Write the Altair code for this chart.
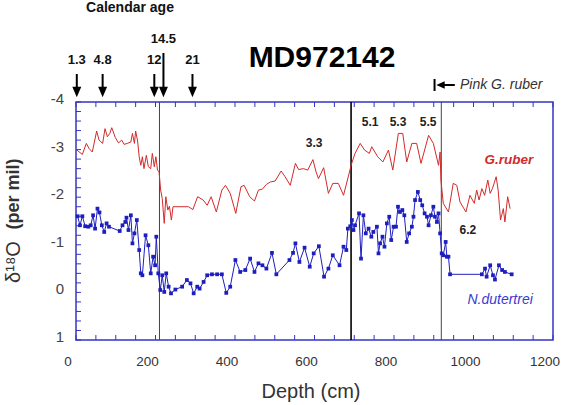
import altair as alt
import pandas as pd

# ---- Core MD972142: oxygen isotope records --------------------------------
# G. ruber (surface dweller): depth in cm, d18O in per mil
ruber_depth = [1, 8, 16, 26, 33, 41, 52, 58, 67, 73, 79, 85, 90, 99, 107, 115,
               121, 129, 138, 142, 147, 150, 155, 159, 163, 167, 171, 177, 182,
               188, 192, 197, 201, 205, 209, 213, 217, 222, 226, 231, 235, 240,
               244, 254, 283, 294, 306, 320, 330, 340, 353, 367, 376, 388, 402,
               415, 423, 437, 449, 459, 469, 479, 489, 501, 516, 526, 539, 552,
               560, 572, 583, 596, 604, 610, 623, 635, 646, 660, 673, 688, 692,
               702, 715, 726, 738, 744, 759, 772, 786, 797, 811, 822, 832, 845,
               857, 868, 887, 899, 912, 916, 918, 924, 937, 949, 958, 966, 981,
               991, 1002, 1008, 1014, 1021, 1028, 1036, 1042, 1048, 1057, 1062,
               1068, 1075, 1079, 1086, 1092]
ruber_d18o = [-3.00, -2.95, -2.90, -3.13, -3.02, -2.95, -3.39, -3.20, -3.13,
              -3.44, -3.27, -3.34, -3.46, -3.25, -3.14, -3.20, -3.11, -3.13,
              -3.16, -3.34, -3.13, -3.39, -3.18, -2.85, -2.67, -2.85, -2.60,
              -2.88, -2.64, -2.60, -2.92, -2.64, -2.85, -2.57, -2.53, -2.15,
              -1.97, -1.45, -2.01, -1.73, -1.81, -1.52, -1.80, -1.80, -1.80,
              -1.74, -2.01, -1.94, -1.83, -2.01, -1.69, -2.15, -2.25, -2.08,
              -1.66, -2.22, -2.25, -2.01, -1.92, -2.15, -2.17, -2.27, -2.32,
              -2.34, -2.55, -2.43, -2.25, -2.71, -2.58, -2.60, -2.57, -2.79,
              -2.53, -2.39, -2.62, -2.08, -2.29, -2.29, -2.04, -2.53, -2.67,
              -2.92, -3.13, -2.99, -2.92, -3.06, -2.85, -2.74, -2.99, -2.57,
              -3.34, -3.34, -2.74, -3.13, -3.13, -2.71, -3.30, -3.13, -2.67,
              -2.95, -2.36, -1.87, -1.69, -2.29, -2.25, -1.90, -1.69, -2.04,
              -1.87, -2.15, -1.94, -2.18, -2.04, -2.36, -2.08, -2.19, -2.43,
              -2.15, -1.52, -1.76, -1.48, -2.01, -1.76]

# N. dutertrei (thermocline dweller)
dut_depth = [4, 10, 16, 23, 31, 37, 43, 48, 54, 59, 65, 71, 77, 83, 110, 117,
             124, 127, 132, 138, 142, 147, 153, 159, 163, 167, 175, 182, 188,
             194, 199, 202, 207, 212, 217, 222, 227, 233, 239, 250, 267, 279,
             288, 296, 305, 311, 321, 330, 342, 355, 367, 378, 388, 401, 413,
             426, 438, 449, 459, 469, 479, 493, 504, 537, 546, 552, 562, 575,
             588, 598, 611, 624, 635, 646, 663, 673, 680, 684, 690, 694, 698,
             702, 712, 717, 723, 729, 736, 743, 748, 757, 761, 765, 771, 776,
             782, 788, 793, 799, 805, 810, 815, 821, 826, 832, 838, 845, 849,
             853, 860, 866, 871, 877, 883, 887, 893, 899, 903, 908, 912, 916,
             920, 924, 930, 933, 937, 941, 1021, 1029, 1033, 1042, 1049, 1054,
             1064, 1072, 1079, 1096]
dut_d18o = [-1.60, -1.41, -1.60, -1.39, -1.38, -1.41, -1.62, -1.34, -1.76,
            -1.68, -1.41, -1.27, -1.45, -1.38, -1.29, -1.41, -1.48, -1.57,
            -1.31, -1.62, -1.03, -1.24, -1.52, -0.89, -0.40, -0.36, -1.20,
            -0.99, -0.40, -0.75, -0.57, -1.17, -0.40, -0.05, -0.36, -0.01,
            -0.40, -0.12, 0.02, -0.06, -0.12, -0.26, -0.19, 0.02, -0.12,
            -0.08, -0.22, -0.36, -0.38, -0.38, -0.38, 0.01, -0.12, -0.68,
            -0.43, -0.47, -0.71, -0.43, -0.61, -0.57, -0.50, -0.83, -0.38,
            -0.68, -0.83, -1.03, -0.64, -0.94, -0.54, -0.82, -0.97, -0.33,
            -0.50, -0.78, -0.57, -0.96, -0.89, -1.34, -1.39, -1.52, -1.31,
            -1.41, -1.66, -0.71, -1.62, -1.24, -1.34, -1.17, -1.27, -1.38,
            -0.82, -1.03, -1.17, -0.96, -1.45, -1.59, -1.10, -1.38, -1.38,
            -1.80, -1.69, -1.73, -1.62, -1.06, -1.24, -1.38, -1.59, -1.94,
            -2.11, -1.94, -1.83, -1.66, -1.59, -1.41, -1.62, -1.80, -1.59,
            -1.48, -1.66, -1.24, -0.82, -0.78, -1.06, -0.75, -0.75, -0.38,
            -0.38, -0.50, -0.33, -0.57, -0.36, -0.27, -0.57, -0.47, -0.43,
            -0.38]

# Boundaries marked across the core (cm)
boundary_depth = [210, 692, 919]

# Calendar ages (kyr) pinned to depths above the plot
age_text = ["1.3", "4.8", "12", "14.5", "21"]
age_depth = [2, 67, 197, 220, 293]

# Isotope stage labels
stage_text = ["3.3", "5.1", "5.3", "5.5", "6.2"]
stage_depth = [599, 740, 810, 886, 986]
stage_d18o = [-3.13, -3.57, -3.57, -3.59, -1.31]

# Axis ticks and labels
x_tick_values = list(range(0, 1201, 50))
x_label_values = list(range(0, 1201, 200))
y_tick_values = [round(-4 + 0.2 * i, 1) for i in range(26)]
y_label_values = [-4, -3, -2, -1, 0, 1]

# ---- Styling ---------------------------------------------------------------
FONT = "Liberation Sans"
RED = "#d42a2a"
BLUE = "#1e1ec0"
FRAME = "#3535c4"
W, H = 477, 238

x_scale = alt.Scale(domain=[0, 1200], nice=False, zero=False)
y_scale = alt.Scale(domain=[-4, 1], reverse=True, nice=False, zero=False)


def xq(field="depth"):
    return alt.X(f"{field}:Q", scale=x_scale, axis=None)


def yq(field="d18o"):
    return alt.Y(f"{field}:Q", scale=y_scale, axis=None)


ruber = pd.DataFrame({"depth": ruber_depth, "d18o": ruber_d18o})
dut = pd.DataFrame({"depth": dut_depth, "d18o": dut_d18o})

ruber_line = alt.Chart(ruber).mark_line(color=RED, strokeWidth=1).encode(
    x=xq(), y=yq()
)

dut_line = alt.Chart(dut).mark_line(
    color=BLUE, strokeWidth=1,
    point=alt.OverlayMarkDef(shape="square", size=14, filled=True,
                             color=BLUE, opacity=1),
).encode(x=xq(), y=yq())

bounds = pd.DataFrame({"depth": boundary_depth, "w": [1, 1.6, 1],
                       "c": ["#444", "#000", "#444"]})
boundary_rules = alt.Chart(bounds).mark_rule().encode(
    x=xq(), y=alt.value(0), y2=alt.value(H),
    strokeWidth=alt.StrokeWidth("w:Q", scale=None, legend=None),
    color=alt.Color("c:N", scale=None, legend=None),
)

# ---- Frame ticks (inward) and tick labels ----------------------------------
xt = pd.DataFrame({"depth": x_tick_values})
yt = pd.DataFrame({"d18o": y_tick_values})
ticks_bottom = alt.Chart(xt).mark_rule(color=FRAME, strokeWidth=1).encode(
    x=xq(), y=alt.value(H - 5), y2=alt.value(H))
ticks_top = alt.Chart(xt).mark_rule(color=FRAME, strokeWidth=1).encode(
    x=xq(), y=alt.value(0), y2=alt.value(5))
ticks_left = alt.Chart(yt).mark_rule(color=FRAME, strokeWidth=1).encode(
    y=yq(), x=alt.value(0), x2=alt.value(5))

xl = pd.DataFrame({"depth": x_label_values,
                   "text": [str(v) for v in x_label_values]})
yl = pd.DataFrame({"d18o": y_label_values,
                   "text": [str(v) for v in y_label_values]})
x_labels = alt.Chart(xl).mark_text(
    font=FONT, fontSize=13.5, color="#333", baseline="middle", dx=-8
).encode(x=xq(), y=alt.value(H + 22), text="text:N")
y_labels = alt.Chart(yl).mark_text(
    font=FONT, fontSize=15, color="#444", baseline="middle", align="right",
    dy=-3
).encode(y=yq(), x=alt.value(-12), text="text:N")

# ---- Annotations -----------------------------------------------------------
# Calendar-age arrows above the frame (the 14.5 kyr one sits higher)
ages = pd.DataFrame({"text": age_text, "depth": age_depth})
ages["top"] = [-49 if t == "14.5" else -28 for t in age_text]
ages["label_y"] = ages["top"] - 14

age_shafts = alt.Chart(ages).mark_rule(color="black", strokeWidth=2).encode(
    x=xq(), y=alt.Y("top:Q", scale=None, axis=None), y2=alt.value(-12)
)
age_heads = alt.Chart(ages).mark_point(
    shape="M-1,-1.2L1,-1.2L0,1.2Z", filled=True, size=80, color="black",
    opacity=1, strokeWidth=0,
).encode(x=xq(), y=alt.value(-10))
age_labels = alt.Chart(ages).mark_text(
    font=FONT, fontSize=13, fontWeight="bold", color="#111", baseline="middle"
).encode(x=xq(), y=alt.Y("label_y:Q", scale=None, axis=None), text="text:N")

stages = pd.DataFrame({"text": stage_text, "depth": stage_depth,
                       "d18o": stage_d18o})
stage_labels = alt.Chart(stages).mark_text(
    font=FONT, fontSize=12, fontWeight="bold", color="#222", baseline="middle"
).encode(x=xq(), y=yq(), text="text:N")

species = pd.DataFrame({"text": ["G.ruber", "N.dutertrei"],
                        "depth": [1089, 1067], "d18o": [-2.78, 0.16]})
ruber_name = alt.Chart(species.iloc[[0]]).mark_text(
    font=FONT, fontSize=13.5, fontWeight="bold", fontStyle="italic",
    color=RED, baseline="middle"
).encode(x=xq(), y=yq(), text="text:N")
dut_name = alt.Chart(species.iloc[[1]]).mark_text(
    font=FONT, fontSize=14, fontStyle="italic", color="#3a3ad0",
    baseline="middle"
).encode(x=xq(), y=yq(), text="text:N")

# "Pink G. ruber" pointer: bar, left arrowhead, shaft, caption
pink_bar = alt.Chart(pd.DataFrame({"depth": [902]})).mark_rule(
    color="black", strokeWidth=2
).encode(x=xq(), y=alt.value(-23), y2=alt.value(-11))
pink_head = alt.Chart(pd.DataFrame({"depth": [917]})).mark_point(
    shape="M-1,0L1,-0.9L1,0.9Z", filled=True, size=70, color="black",
    opacity=1, strokeWidth=0,
).encode(x=xq(), y=alt.value(-17))
pink_shaft = alt.Chart(pd.DataFrame({"depth": [917], "end": [953]})).mark_rule(
    color="black", strokeWidth=2
).encode(x=xq(), x2="end:Q", y=alt.value(-17))
pink_text = alt.Chart(pd.DataFrame({"depth": [966], "text": ["Pink G. ruber"]})).mark_text(
    font=FONT, fontSize=14, fontStyle="italic", color="#333",
    align="left", baseline="middle"
).encode(x=xq(), y=alt.value(-17), text="text:N")

# Free-standing titles around the frame
heads_df = pd.DataFrame({"text": ["MD972142", "Calendar age", "Depth (cm)"]})
core_title = alt.Chart(heads_df.iloc[[0]]).mark_text(
    font=FONT, fontSize=30, fontWeight="bold", color="black",
    baseline="middle"
).encode(x=alt.value(246), y=alt.value(-44), text="text:N")
age_title = alt.Chart(heads_df.iloc[[1]]).mark_text(
    font=FONT, fontSize=14, fontWeight="bold", color="#111",
    baseline="middle"
).encode(x=alt.value(54), y=alt.value(-94), text="text:N")
x_title = alt.Chart(heads_df.iloc[[2]]).mark_text(
    font=FONT, fontSize=20, color="#333", baseline="middle"
).encode(x=alt.value(235), y=alt.value(H + 52), text="text:N")

ytitle_df = pd.DataFrame({"text": ["(per mil)", "δ¹⁸O"]})
ytitle_bold = alt.Chart(ytitle_df.iloc[[0]]).mark_text(
    font=FONT, fontSize=18, fontWeight="bold", color="#333", angle=270,
    baseline="middle"
).encode(x=alt.value(-62), y=alt.value(92), text="text:N")
ytitle_sym = alt.Chart(ytitle_df.iloc[[1]]).mark_text(
    font=FONT, fontSize=20, color="#333", angle=270, baseline="middle"
).encode(x=alt.value(-62), y=alt.value(160), text="text:N")

chart = alt.layer(
    ticks_bottom, ticks_top, ticks_left, x_labels, y_labels,
    boundary_rules, ruber_line, dut_line, stage_labels, ruber_name, dut_name,
    age_shafts, age_heads, age_labels,
    pink_bar, pink_head, pink_shaft, pink_text,
    core_title, age_title, x_title, ytitle_bold, ytitle_sym,
).properties(
    width=W, height=H,
    autosize=alt.AutoSizeParams(type="none"),
    padding={"left": 76, "top": 102, "right": 12, "bottom": 65},
    background="white",
).configure_view(
    stroke=FRAME, strokeWidth=1.5
)

chart.save("out.html", embed_options={"renderer": "svg", "actions": False})
